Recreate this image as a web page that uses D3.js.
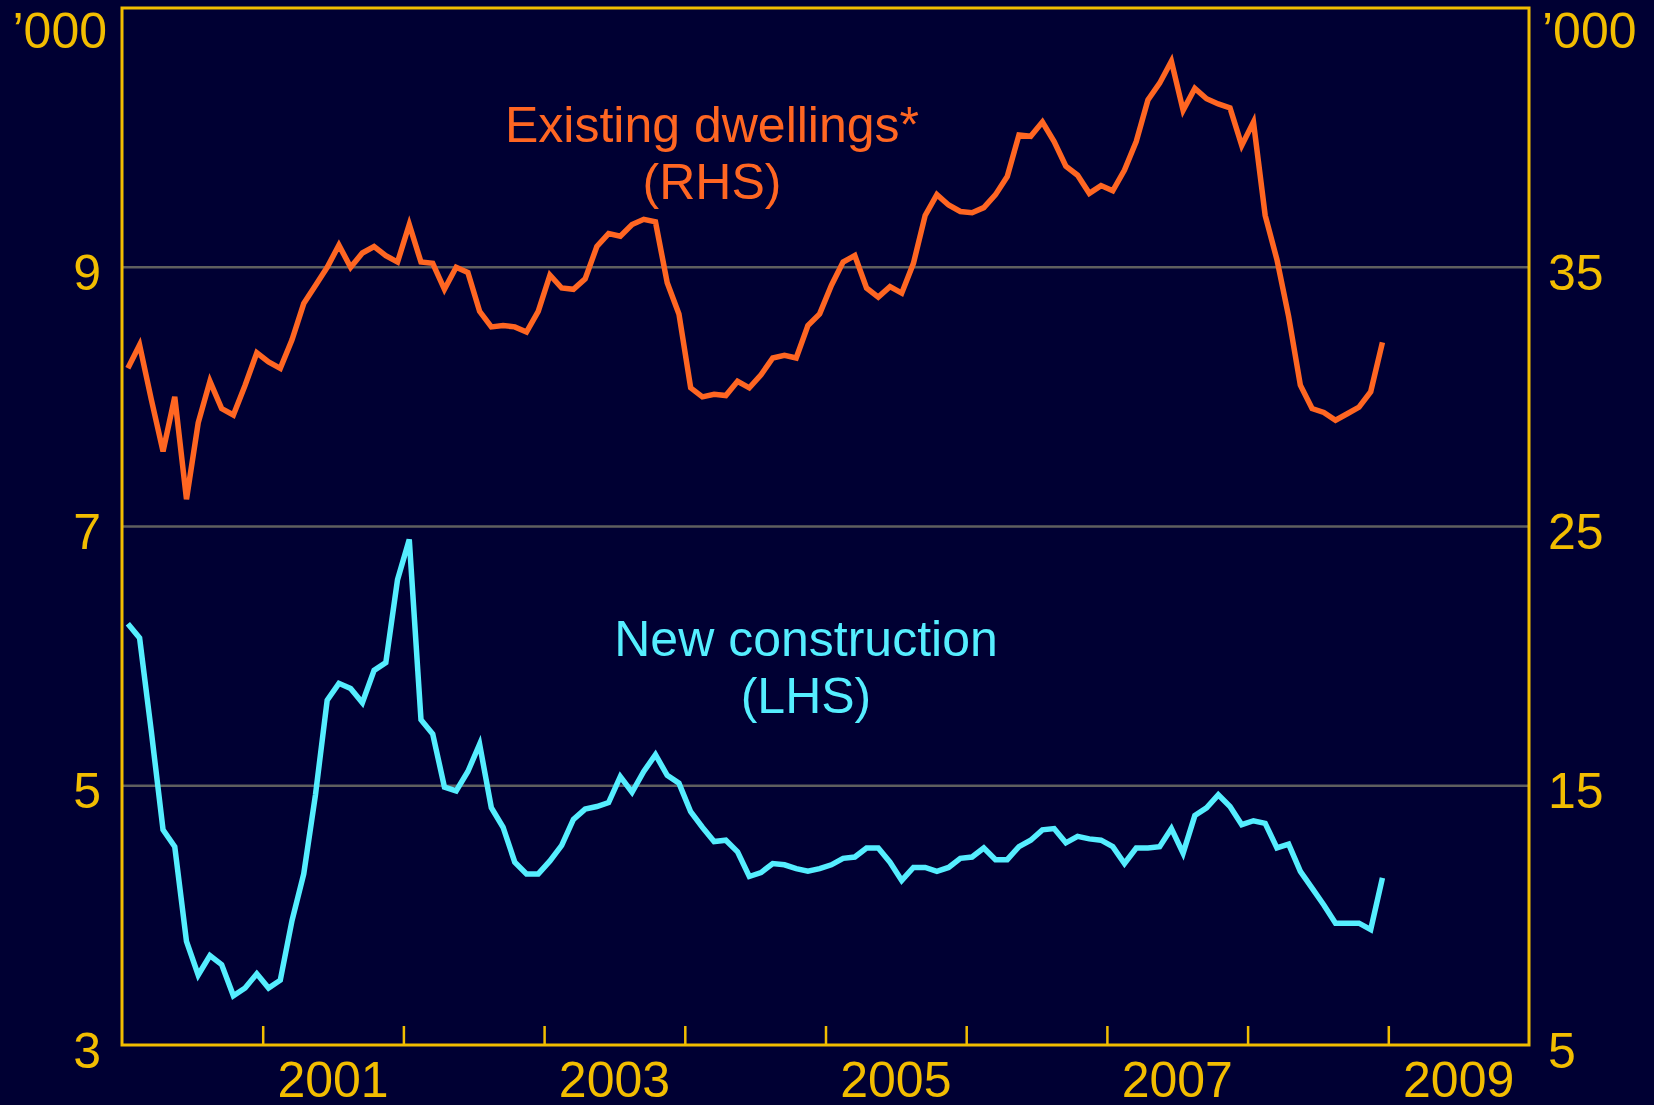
<!DOCTYPE html>
<html>
<head>
<meta charset="utf-8">
<script src="https://cdn.jsdelivr.net/npm/d3@7"></script>
<style>
html,body{margin:0;padding:0;background:#000033;}
svg{display:block;}
text{font-family:"Liberation Sans",Arial,sans-serif;}
</style>
</head>
<body>
<svg id="chart" width="1654" height="1105"></svg>
<script>
// ---- data: monthly, Jan 2000 .. Dec 2008 ----
const startYear = 2000;
const newConstruction = [ // LHS, '000
  6.25,6.14,5.42,4.66,4.53,3.80,3.54,3.69,3.62,3.38,3.44,3.55,
  3.44,3.50,3.96,4.32,4.93,5.66,5.79,5.75,5.64,5.89,5.95,6.59,
  6.90,5.51,5.40,4.99,4.96,5.11,5.32,4.83,4.68,4.41,4.32,4.32,
  4.42,4.54,4.74,4.82,4.84,4.87,5.07,4.95,5.11,5.24,5.08,5.02,
  4.80,4.68,4.57,4.58,4.49,4.30,4.33,4.40,4.39,4.36,4.34,4.36,
  4.39,4.44,4.45,4.52,4.52,4.41,4.27,4.37,4.37,4.34,4.37,4.44,
  4.45,4.52,4.43,4.43,4.53,4.58,4.66,4.67,4.56,4.61,4.59,4.58,
  4.53,4.40,4.52,4.52,4.53,4.67,4.48,4.77,4.83,4.93,4.84,4.70,
  4.73,4.71,4.52,4.55,4.34,4.21,4.08,3.94,3.94,3.94,3.89,4.29
];
const existingDwellings = [ // RHS, '000
  31.1,32.0,29.9,27.9,30.0,26.05,29.0,30.6,29.55,29.3,30.45,31.7,
  31.35,31.1,32.2,33.6,34.3,35.0,35.85,35.0,35.55,35.8,35.45,35.2,
  36.65,35.2,35.15,34.15,35.0,34.8,33.3,32.7,32.75,32.7,32.5,33.3,
  34.7,34.2,34.15,34.55,35.8,36.3,36.2,36.65,36.85,36.75,34.4,33.2,
  30.35,30.0,30.1,30.05,30.6,30.35,30.85,31.5,31.6,31.5,32.75,33.2,
  34.3,35.2,35.45,34.2,33.85,34.25,34.0,35.15,37.0,37.8,37.4,37.15,
  37.1,37.3,37.8,38.5,40.1,40.05,40.6,39.85,38.9,38.55,37.85,38.15,
  37.95,38.75,39.85,41.45,42.1,42.95,41.05,41.9,41.5,41.3,41.15,39.7,
  40.6,37.0,35.3,33.1,30.45,29.55,29.4,29.1,29.35,29.6,30.2,32.1
];
const yearTicks = [2001,2002,2003,2004,2005,2006,2007,2008,2009];
const yearLabels = [2001,2003,2005,2007,2009];
const leftTicks = [3,5,7,9];
const rightTicks = [5,15,25,35];
const gridValues = [5,7,9];
const unitLabel = "\u2019000";

// ---- layout ----
const svg = d3.select("#chart");
const W = 1654, H = 1105;
const m = {left:122, right:1529, top:8, bottom:1045};
const gold = "#F2BD00";
const orange = "#FF6622";
const cyan = "#55EEFF";

svg.append("rect").attr("width",W).attr("height",H).attr("fill","#000033");

const x = d3.scaleLinear().domain([2000,2010]).range([m.left,m.right]);
const yL = d3.scaleLinear().domain([3,11]).range([m.bottom,m.top]);
const yR = d3.scaleLinear().domain([5,45]).range([m.bottom,m.top]);

// gridlines
svg.append("g").selectAll("line").data(gridValues).join("line")
  .attr("x1",m.left).attr("x2",m.right)
  .attr("y1",d=>yL(d)).attr("y2",d=>yL(d))
  .attr("stroke","#5f5f5f").attr("stroke-width",2.5);

// x axis ticks (inward)
const xAxis = d3.axisBottom(x).tickValues(yearTicks).tickSize(-19).tickFormat("");
const gx = svg.append("g").attr("transform",`translate(0,${m.bottom})`).call(xAxis);
gx.select(".domain").remove();
gx.selectAll(".tick line").attr("stroke",gold).attr("stroke-width",2.5);

// x labels centred in year
svg.append("g").selectAll("text").data(yearLabels).join("text")
  .attr("x",d=>x(d+0.5)).attr("y",1097)
  .attr("text-anchor","middle").attr("fill",gold).attr("font-size",50)
  .text(d=>d);

// left axis labels
const gl = svg.append("g").attr("transform",`translate(${m.left},0)`)
  .call(d3.axisLeft(yL).tickValues(leftTicks).tickSize(0).tickPadding(21));
gl.select(".domain").remove();
gl.selectAll(".tick text").attr("fill",gold).attr("font-size",50)
  .attr("font-family","Liberation Sans, Arial, sans-serif").attr("dy","0.44em");

// right axis labels
const gr = svg.append("g").attr("transform",`translate(${m.right},0)`)
  .call(d3.axisRight(yR).tickValues(rightTicks).tickSize(0).tickPadding(19));
gr.select(".domain").remove();
gr.selectAll(".tick text").attr("fill",gold).attr("font-size",50)
  .attr("font-family","Liberation Sans, Arial, sans-serif").attr("dy","0.44em");

// unit labels
svg.append("text").attr("x",107).attr("y",48).attr("text-anchor","end")
  .attr("fill",gold).attr("font-size",50).text(unitLabel);
svg.append("text").attr("x",1542).attr("y",48).attr("text-anchor","start")
  .attr("fill",gold).attr("font-size",50).text(unitLabel);

// lines
const monthX = i => x(startYear + (i+0.5)/12);
const lineL = d3.line().x((d,i)=>monthX(i)).y(d=>yL(d));
const lineR = d3.line().x((d,i)=>monthX(i)).y(d=>yR(d));

svg.append("path").datum(existingDwellings).attr("d",lineR)
  .attr("fill","none").attr("stroke",orange).attr("stroke-width",5.5)
  .attr("stroke-linejoin","miter");
svg.append("path").datum(newConstruction).attr("d",lineL)
  .attr("fill","none").attr("stroke",cyan).attr("stroke-width",5.5)
  .attr("stroke-linejoin","miter");

// frame
svg.append("rect").attr("x",m.left).attr("y",m.top)
  .attr("width",m.right-m.left).attr("height",m.bottom-m.top)
  .attr("fill","none").attr("stroke",gold).attr("stroke-width",3);

// annotations
const ann = [
  {lines:["Existing dwellings*","(RHS)"], x:712, y:142, color:orange},
  {lines:["New construction","(LHS)"], x:806, y:656, color:cyan}
];
ann.forEach(a=>{
  const t = svg.append("text").attr("text-anchor","middle").attr("fill",a.color).attr("font-size",50);
  a.lines.forEach((s,k)=>{
    t.append("tspan").attr("x",a.x).attr("y",a.y + k*57).text(s);
  });
});
</script>
</body>
</html>
